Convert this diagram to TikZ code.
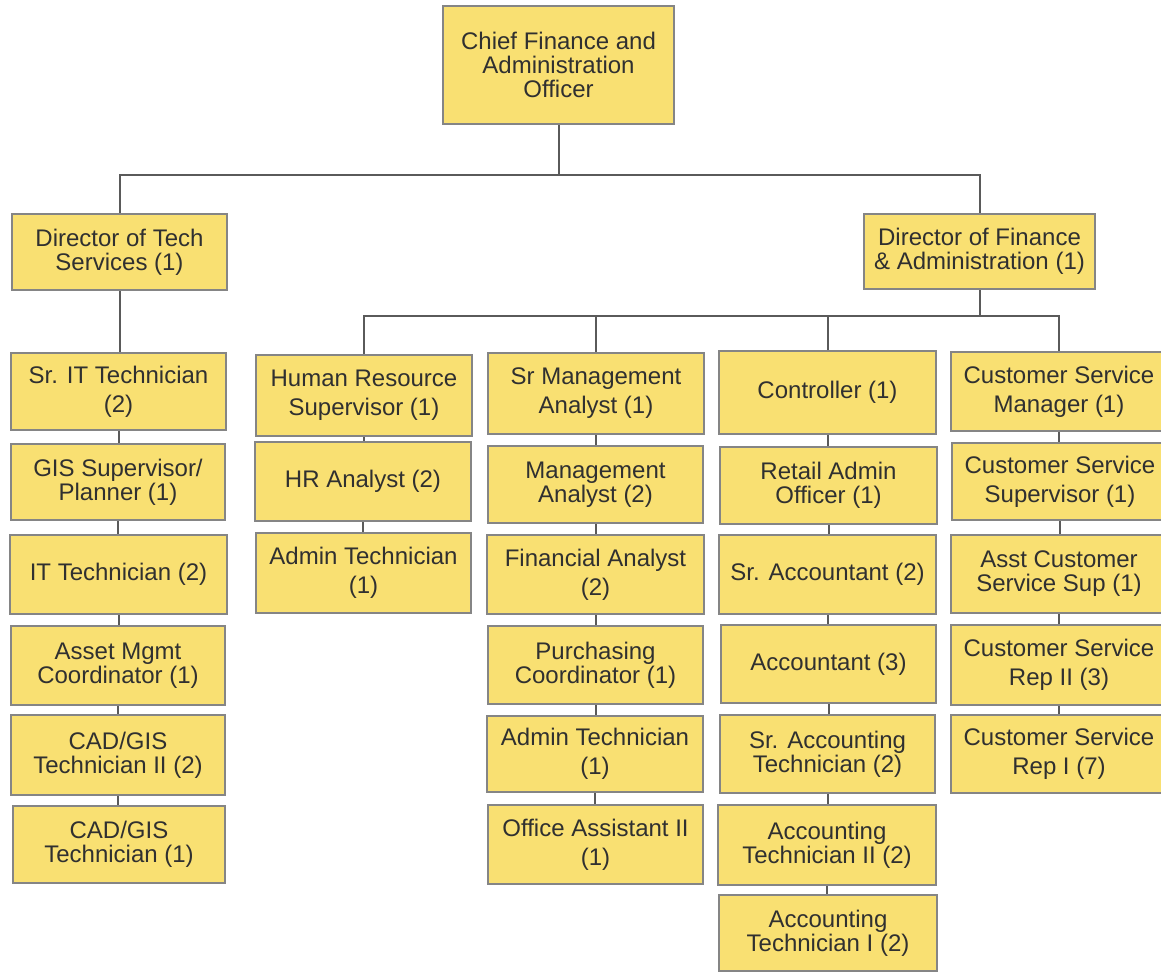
\documentclass[tikz,border=0pt]{standalone}
\usepackage{fontspec}
\setmainfont{Liberation Sans}
\usepackage{xcolor}
\usepackage{tikz}
\usetikzlibrary{positioning}

\definecolor{postfill}{HTML}{F9E072}
\definecolor{postline}{HTML}{858585}
\definecolor{linkgray}{HTML}{5A5A5A}
\definecolor{posttext}{HTML}{303030}

\begin{document}
\begin{tikzpicture}[x=0.5pt, y=-0.5pt,
    % Styles
    post/.style={rectangle, draw=postline, fill=postfill, line width=1pt, inner sep=0pt, align=center, text=posttext, font=\fontsize{12}{12}\selectfont, minimum height=39pt},
    loose/.style={font=\fontsize{12}{14.5}\selectfont},
    link/.style={draw=linkgray, line width=1pt}
]
    \useasboundingbox (0,0) rectangle (1161,971);

    % --- Top ---
    \node[post, minimum width=115.5pt, minimum height=59pt] (cfo) at (558.5,65) {Chief Finance and\\Administration\\Officer};

    \node[post, minimum width=107.5pt, minimum height=38pt] (dts) at (119.5,252) {Director of Tech\\Services (1)};
    \node[post, minimum width=115.5pt, minimum height=37.5pt] (dfa) at (979.5,251.5) {Director of Finance\\\& Administration (1)};

    % --- Tech Services column ---
    \node[post, loose, minimum width=107.5pt, minimum height=38.5pt] (srit) at (118.5,391.5) {Sr. IT Technician\\(2)};
    \node[post, minimum width=107pt, minimum height=38pt] (gis) at (118,482) {GIS Supervisor/\\Planner (1)};
    \node[post, minimum width=108.5pt, minimum height=39.5pt] (itt) at (118.5,574.5) {IT Technician (2)};
    \node[post, minimum width=107pt, minimum height=39.5pt] (asset) at (118,665.5) {Asset Mgmt\\Coordinator (1)};
    \node[post, minimum width=107pt, minimum height=40pt] (cad2) at (118,755) {CAD/GIS\\Technician II (2)};
    \node[post, minimum width=106pt, minimum height=38.5pt] (cad1) at (119,844.5) {CAD/GIS\\Technician (1)};

    % --- Human Resources column ---
    \node[post, loose, minimum width=108pt, minimum height=40.5pt] (hrs) at (364,395.5) {Human Resource\\Supervisor (1)};
    \node[post, minimum width=108pt, minimum height=39.5pt] (hra) at (363,481.5) {HR Analyst (2)};
    \node[post, loose, minimum width=107.5pt, minimum height=40pt] (admA) at (363.5,573) {Admin Technician\\(1)};

    % --- Management column ---
    \node[post, loose, minimum width=108pt, minimum height=40.5pt] (srma) at (596,393.5) {Sr Management\\Analyst (1)};
    \node[post, minimum width=107.5pt, minimum height=38.5pt] (mgma) at (595.5,484.5) {Management\\Analyst (2)};
    \node[post, loose, minimum width=108.5pt, minimum height=39.5pt] (fina) at (595.5,574.5) {Financial Analyst\\(2)};
    \node[post, minimum width=107.5pt, minimum height=39pt] (purch) at (595.5,665) {Purchasing\\Coordinator (1)};
    \node[post, loose, minimum width=108pt, minimum height=38pt] (admB) at (595,754) {Admin Technician\\(1)};
    \node[post, loose, minimum width=107.5pt, minimum height=39.5pt] (offa) at (595.5,844.5) {Office Assistant II\\(1)};

    % --- Controller column ---
    \node[post, minimum width=108.5pt, minimum height=41.5pt] (ctrl) at (827.5,392.5) {Controller (1)};
    \node[post, minimum width=108.5pt, minimum height=38.5pt] (retail) at (828.5,485.5) {Retail Admin\\Officer (1)};
    \node[post, minimum width=108.5pt, minimum height=39.5pt] (sracc) at (827.5,574.5) {Sr. Accountant (2)};
    \node[post, minimum width=107.5pt, minimum height=39pt] (acc) at (828.5,664) {Accountant (3)};
    \node[post, minimum width=107.5pt, minimum height=39pt] (srat) at (827.5,754) {Sr. Accounting\\Technician (2)};
    \node[post, minimum width=109pt, minimum height=40pt] (at2) at (827,845) {Accounting\\Technician II (2)};
    \node[post, minimum width=109pt, minimum height=38pt] (at1) at (828,933) {Accounting\\Technician I (2)};

    % --- Customer Service column ---
    \node[post, loose, minimum width=108pt, minimum height=39.5pt] (csm) at (1059,391.5) {Customer Service\\Manager (1)};
    \node[post, loose, minimum width=108pt, minimum height=38.5pt] (css) at (1060,481.5) {Customer Service\\Supervisor (1)};
    \node[post, minimum width=108pt, minimum height=39pt] (acss) at (1059,574) {Asst Customer\\Service Sup (1)};
    \node[post, loose, minimum width=108pt, minimum height=40pt] (rep2) at (1059,665) {Customer Service\\Rep II (3)};
    \node[post, loose, minimum width=108pt, minimum height=39pt] (rep1) at (1059,754) {Customer Service\\Rep I (7)};

    % --- Connections ---
    \coordinate (topbus) at (560,175);
    \coordinate (finbus) at (979.5,316);

    \draw[link] (cfo.south) -- (cfo.south |- topbus);
    \draw[link] (dts.north) |- (topbus) -| (dfa.north);
    \draw[link] (dfa.south) -- (finbus);
    \draw[link] (hrs.north) |- (finbus) -| (csm.north);
    \draw[link] (srma.north) -- (srma.north |- finbus);
    \draw[link] (ctrl.north) -- (ctrl.north |- finbus);

    \foreach \up/\down in {dts/srit, srit/gis, gis/itt, itt/asset, asset/cad2, cad2/cad1,
                          hrs/hra, hra/admA,
                          srma/mgma, mgma/fina, fina/purch, purch/admB, admB/offa,
                          ctrl/retail, retail/sracc, sracc/acc, acc/srat, srat/at2, at2/at1,
                          csm/css, css/acss, acss/rep2, rep2/rep1}
        \draw[link] (\up.south) -- (\up.south |- \down.north);

\end{tikzpicture}
\end{document}
